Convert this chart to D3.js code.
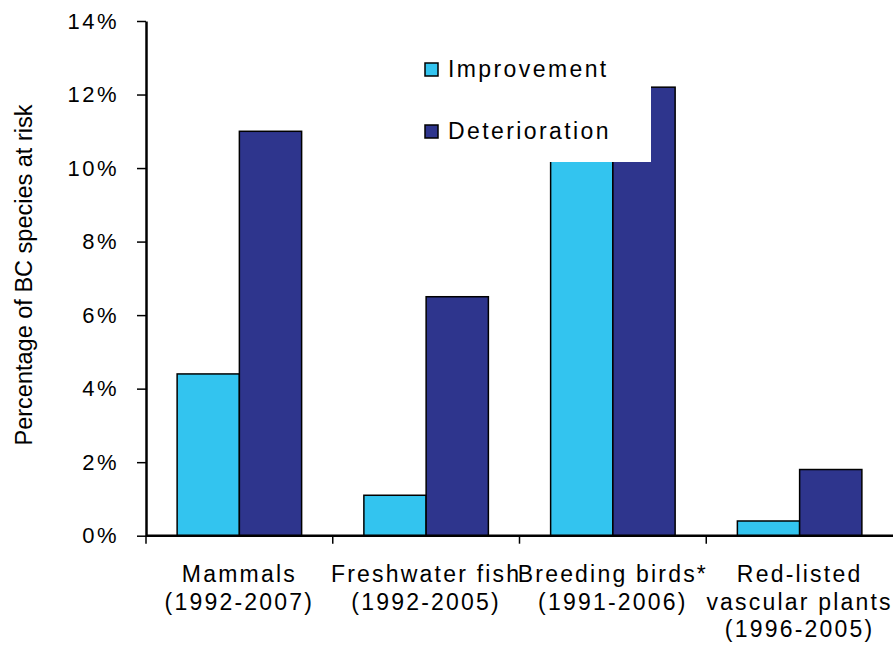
<!DOCTYPE html>
<html>
<head>
<meta charset="utf-8">
<script src="https://cdn.jsdelivr.net/npm/d3@7"></script>
<style>
  body { margin: 0; background: #fff; }
  text { font-family: Arial, "Liberation Sans", sans-serif; fill: #000; }
</style>
</head>
<body>
<svg id="chart" width="893" height="645"></svg>
<script>
// data
var categories = ["Mammals", "Freshwater fish", "Breeding birds*", "Red-listed plants"];
var categoryLabels = [
  ["Mammals", "(1992-2007)"],
  ["Freshwater fish", "(1992-2005)"],
  ["Breeding birds*", "(1991-2006)"],
  ["Red-listed", "vascular plants", "(1996-2005)"]
];
var seriesNames = ["Improvement", "Deterioration"];
var improvement = [4.4, 1.1, 10.2, 0.4];
var deterioration = [11.0, 6.5, 12.2, 1.8];
var yTicks = [0, 2, 4, 6, 8, 10, 12, 14];
var colors = ["#33C4EF", "#2E358D"];

var svg = d3.select("#chart");

var plotLeft = 146, plotRight = 893, plotTop = 21, plotBottom = 535.7;

var x0 = d3.scaleBand().domain(categories).range([plotLeft, plotRight]);
var x1 = d3.scaleBand().domain(seriesNames).range([0, x0.bandwidth()]).paddingOuter(0.5);
var y = d3.scaleLinear().domain([0, 14]).range([plotBottom, plotTop]);
var color = d3.scaleOrdinal().domain(seriesNames).range(colors);

var rows = categories.map(function (c, i) {
  return { cat: c, values: [
    { name: seriesNames[0], v: improvement[i] },
    { name: seriesNames[1], v: deterioration[i] }
  ]};
});

// bars
svg.append("g").selectAll("g")
  .data(rows)
  .enter().append("g")
  .attr("transform", function (d) { return "translate(" + x0(d.cat) + ",0)"; })
  .selectAll("rect")
  .data(function (d) { return d.values; })
  .enter().append("rect")
  .attr("x", function (d) { return x1(d.name); })
  .attr("y", function (d) { return y(d.v); })
  .attr("width", x1.bandwidth())
  .attr("height", function (d) { return plotBottom - y(d.v); })
  .attr("fill", function (d) { return color(d.name); })
  .attr("stroke", "#000")
  .attr("stroke-width", 1.5);

// legend (white box sits over the plot, as in the original)
var legend = svg.append("g");
legend.append("rect")
  .attr("x", 405).attr("y", 40)
  .attr("width", 246).attr("height", 122)
  .attr("fill", "#fff");
seriesNames.forEach(function (s, i) {
  var ly = 63 + i * 62;
  legend.append("rect")
    .attr("x", 425).attr("y", ly)
    .attr("width", 13).attr("height", 13)
    .attr("fill", color(s))
    .attr("stroke", "#000").attr("stroke-width", 1.5);
  legend.append("text")
    .attr("x", 448).attr("y", ly + 14)
    .style("font-size", "23px")
    .style("letter-spacing", "2.4px")
    .text(s);
});

// y axis
var yAxis = svg.append("g")
  .attr("transform", "translate(" + plotLeft + ",0)")
  .call(d3.axisLeft(y).tickValues(yTicks).tickFormat(function (d) { return d + "%"; })
    .tickSize(9).tickSizeOuter(0).tickPadding(18));
yAxis.select(".domain").attr("stroke", "#000").attr("stroke-width", 2.5);
yAxis.selectAll(".tick line").attr("stroke", "#000").attr("stroke-width", 1.5);
yAxis.selectAll(".tick text")
  .style("font-size", "22px")
  .style("letter-spacing", "2.5px")
  .attr("fill", "#000");

// x axis: baseline plus ticks at category boundaries
var xAxis = svg.append("g");
xAxis.append("line")
  .attr("x1", plotLeft).attr("x2", plotRight)
  .attr("y1", plotBottom).attr("y2", plotBottom)
  .attr("stroke", "#000").attr("stroke-width", 2.5);
var bounds = categories.map(function (c) { return x0(c); });
xAxis.selectAll("line.tk")
  .data(bounds)
  .enter().append("line")
  .attr("class", "tk")
  .attr("x1", function (d) { return d; }).attr("x2", function (d) { return d; })
  .attr("y1", plotBottom).attr("y2", plotBottom + 8)
  .attr("stroke", "#000").attr("stroke-width", 1.5);

// category labels
var lab = svg.append("g").selectAll("text")
  .data(categories)
  .enter().append("text")
  .attr("x", function (d) { return x0(d) + x0.bandwidth() / 2; })
  .attr("y", 582)
  .attr("text-anchor", "middle")
  .style("font-size", "23px")
  .style("letter-spacing", "2.2px");
lab.selectAll("tspan")
  .data(function (d, i) { return categoryLabels[i]; })
  .enter().append("tspan")
  .attr("x", function () { return this.parentNode.getAttribute("x"); })
  .attr("dy", function (d, i) { return i === 0 ? 0 : 27.5; })
  .text(function (d) { return d; });

// y axis title
svg.append("text")
  .attr("transform", "translate(32,275) rotate(-90)")
  .attr("text-anchor", "middle")
  .style("font-size", "23.5px")
  .text("Percentage of BC species at risk");
</script>
</body>
</html>
